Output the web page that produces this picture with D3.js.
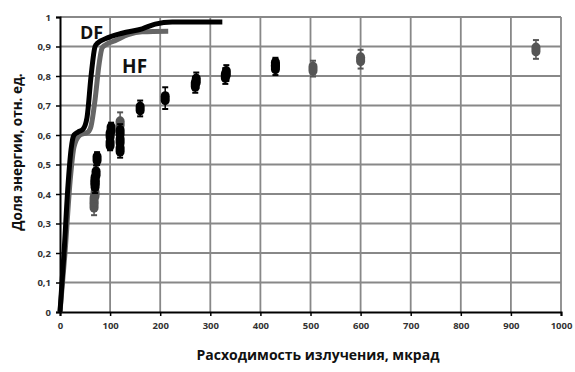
<!DOCTYPE html>
<html><head><meta charset="utf-8">
<script src="https://cdn.jsdelivr.net/npm/d3@7"></script>
<style>body{margin:0;background:#fff}svg{display:block}</style>
</head><body>
<script>
const xTicks = [0,100,200,300,400,500,600,700,800,900,1000];
const yTicks = [0,0.1,0.2,0.3,0.4,0.5,0.6,0.7,0.8,0.9,1];
const dfX = [0,8,16,22,28,36,46,54,62,70,74,96,124,164,190,224,324];
const dfY = [0,0.2,0.43,0.55,0.6,0.61,0.62,0.66,0.8,0.9,0.91,0.93,0.945,0.96,0.976,0.983,0.983];
const hfX = [0,10,20,28,40,56,62,70,78,84,90,110,136,164,216];
const hfY = [0,0.2,0.44,0.56,0.6,0.61,0.63,0.72,0.84,0.895,0.905,0.92,0.94,0.95,0.952];
const blackX = [70,70,72,74,70,100,100,102,120,120,120,160,210,270,272,330,332,430,430];
const blackY = [0.43,0.45,0.47,0.52,0.44,0.57,0.6,0.62,0.55,0.58,0.61,0.69,0.725,0.77,0.785,0.8,0.81,0.83,0.84];
const blackE = [0.02,0.02,0.02,0.015,0.02,0.015,0.02,0.015,0.02,0.02,0.02,0.02,0.03,0.02,0.02,0.02,0.02,0.02,0.015];
const grayX = [68,68,70,120,505,600,950];
const grayY = [0.36,0.38,0.40,0.64,0.825,0.857,0.89];
const grayE = [0.025,0.02,0.02,0.03,0.02,0.025,0.025];

const W=575,H=372;
const m={l:60,t:17,r:14,b:60};
const svg=d3.select("body").append("svg").attr("width",W).attr("height",H);
const x=d3.scaleLinear().domain([0,1000]).range([m.l,W-m.r]);
const y=d3.scaleLinear().domain([0,1]).range([H-m.b,m.t]);
const font="'Open Sans', sans-serif";

// grid
svg.append("g").selectAll("line").data(xTicks.slice(1)).join("line")
  .attr("x1",d=>x(d)).attr("x2",d=>x(d)).attr("y1",y(0)).attr("y2",y(1))
  .attr("stroke","#888").attr("stroke-width",1.8);
svg.append("g").selectAll("line").data(yTicks.slice(1)).join("line")
  .attr("x1",x(0)).attr("x2",x(1000)).attr("y1",d=>y(d)).attr("y2",d=>y(d))
  .attr("stroke","#888").attr("stroke-width",1.8);

// axes
const fmt=d=>d===0?"0":d===1?"1":String(d.toFixed(1)).replace(".",",");
const ax=svg.append("g").attr("transform",`translate(0,${y(0)})`)
  .call(d3.axisBottom(x).tickValues(xTicks).tickSize(4).tickPadding(6).tickFormat(d3.format("d")));
const ay=svg.append("g").attr("transform",`translate(${x(0)},0)`)
  .call(d3.axisLeft(y).tickValues(yTicks).tickSize(4).tickPadding(5).tickFormat(fmt));
[ax,ay].forEach(a=>{
  a.select(".domain").attr("stroke","#000").attr("stroke-width",2);
  a.selectAll(".tick line").attr("stroke","#000").attr("stroke-width",1.5);
  a.selectAll("text").attr("font-family",font).attr("font-weight","bold").attr("font-size",9.5).attr("fill","#333");
});

// curves
const line=d3.line().x(d=>x(d[0])).y(d=>y(d[1])).curve(d3.curveMonotoneX);
svg.append("path").datum(hfX.map((v,i)=>[v,hfY[i]])).attr("d",line)
  .attr("fill","none").attr("stroke","#666").attr("stroke-width",5).attr("stroke-linejoin","round");
svg.append("path").datum(dfX.map((v,i)=>[v,dfY[i]])).attr("d",line)
  .attr("fill","none").attr("stroke","#000").attr("stroke-width",5).attr("stroke-linejoin","round");

// points
function pts(xs,ys,es,col){
  const g=svg.append("g");
  const data=xs.map((v,i)=>({x:v,y:ys[i],e:es[i]}));
  data.forEach(d=>{
    const cx=x(d.x);
    g.append("line").attr("x1",cx).attr("x2",cx).attr("y1",y(d.y+d.e)-2).attr("y2",y(d.y-d.e)+2)
      .attr("stroke",col).attr("stroke-width",1.5);
    [d.y+d.e,d.y-d.e].forEach(v=>g.append("line").attr("x1",cx-3).attr("x2",cx+3)
      .attr("y1",y(v)+(v>d.y?-2:2)).attr("y2",y(v)+(v>d.y?-2:2)).attr("stroke",col).attr("stroke-width",2));
    g.append("rect").attr("x",cx-4.5).attr("y",y(d.y)-7).attr("width",9).attr("height",14)
      .attr("rx",4.5).attr("ry",5).attr("fill",col);
  });
}
pts(grayX,grayY,grayE,"#555");
pts(blackX,blackY,blackE,"#000");

// labels
svg.append("text").attr("x",x(40)).attr("y",y(0.925)).text("DF")
  .attr("font-family",font).attr("font-weight","bold").attr("font-size",18).attr("fill","#111");
svg.append("text").attr("x",x(124)).attr("y",y(0.81)).text("HF")
  .attr("font-family",font).attr("font-weight","bold").attr("font-size",19).attr("fill","#111");

svg.append("text").attr("x",318).attr("y",360).attr("text-anchor","middle")
  .text("Расходимость излучения, мкрад")
  .attr("font-family",font).attr("font-weight","bold").attr("font-size",14).attr("fill","#111");
svg.append("text").attr("transform","translate(22,152) rotate(-90)").attr("text-anchor","middle")
  .text("Доля энергии, отн. ед.")
  .attr("font-family",font).attr("font-weight","bold").attr("font-size",13.5).attr("fill","#111");
</script>
</body></html>
